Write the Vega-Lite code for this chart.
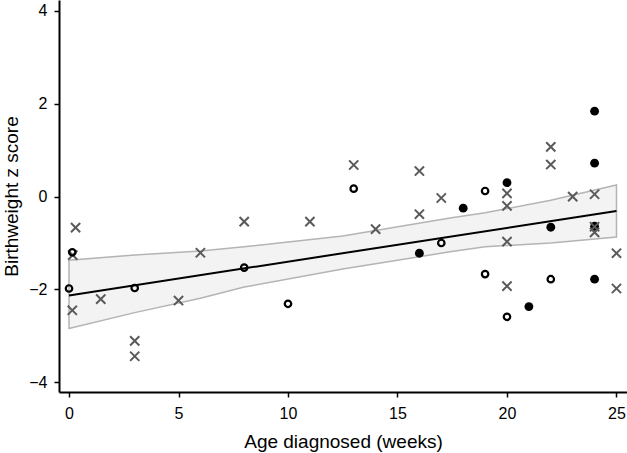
{
  "$schema": "https://vega.github.io/schema/vega-lite/v6.json",
  "width": 568,
  "height": 392,
  "autosize": {"type": "none"},
  "padding": {"left": 59, "top": 0, "right": 0, "bottom": 61},
  "background": "white",
  "config": {
    "view": {"stroke": null},
    "font": "Liberation Sans",
    "axis": {
      "grid": false,
      "domainColor": "black",
      "domainWidth": 2,
      "tickColor": "black",
      "tickWidth": 1.5,
      "tickSize": 5,
      "labelFont": "Liberation Sans",
      "labelFontSize": 16,
      "labelColor": "black",
      "titleFont": "Liberation Sans",
      "titleFontSize": 19,
      "titleFontWeight": "normal",
      "titleColor": "black"
    },
    "axisX": {"labelPadding": 8, "titlePadding": 11},
    "axisY": {"labelPadding": 7, "titlePadding": 7}
  },
  "datasets": {
    "points": [
      {"age": 0.3, "z": -0.67, "group": "cross"},
      {"age": 0.17, "z": -1.26, "group": "cross"},
      {"age": 0.15, "z": -2.45, "group": "cross"},
      {"age": 1.45, "z": -2.21, "group": "cross"},
      {"age": 3, "z": -3.11, "group": "cross"},
      {"age": 3, "z": -3.44, "group": "cross"},
      {"age": 5, "z": -2.24, "group": "cross"},
      {"age": 6, "z": -1.21, "group": "cross"},
      {"age": 8, "z": -0.54, "group": "cross"},
      {"age": 11, "z": -0.54, "group": "cross"},
      {"age": 13, "z": 0.68, "group": "cross"},
      {"age": 14, "z": -0.7, "group": "cross"},
      {"age": 16, "z": 0.55, "group": "cross"},
      {"age": 16, "z": -0.38, "group": "cross"},
      {"age": 17, "z": -0.03, "group": "cross"},
      {"age": 20, "z": 0.07, "group": "cross"},
      {"age": 20, "z": -0.2, "group": "cross"},
      {"age": 20, "z": -0.97, "group": "cross"},
      {"age": 20, "z": -1.93, "group": "cross"},
      {"age": 22, "z": 1.07, "group": "cross"},
      {"age": 22, "z": 0.69, "group": "cross"},
      {"age": 23, "z": 0.0, "group": "cross"},
      {"age": 24, "z": 0.05, "group": "cross"},
      {"age": 24, "z": -0.65, "group": "cross"},
      {"age": 24, "z": -0.77, "group": "cross"},
      {"age": 25, "z": -1.22, "group": "cross"},
      {"age": 25, "z": -1.98, "group": "cross"},
      {"age": 0.15, "z": -1.2, "group": "open"},
      {"age": 0, "z": -1.98, "group": "open"},
      {"age": 3, "z": -1.97, "group": "open"},
      {"age": 8, "z": -1.53, "group": "open"},
      {"age": 10, "z": -2.31, "group": "open"},
      {"age": 13, "z": 0.17, "group": "open"},
      {"age": 17, "z": -1.0, "group": "open"},
      {"age": 19, "z": 0.12, "group": "open"},
      {"age": 19, "z": -1.67, "group": "open"},
      {"age": 20, "z": -2.59, "group": "open"},
      {"age": 22, "z": -1.78, "group": "open"},
      {"age": 16, "z": -1.22, "group": "filled"},
      {"age": 18, "z": -0.25, "group": "filled"},
      {"age": 20, "z": 0.3, "group": "filled"},
      {"age": 21, "z": -2.37, "group": "filled"},
      {"age": 22, "z": -0.66, "group": "filled"},
      {"age": 24, "z": 1.84, "group": "filled"},
      {"age": 24, "z": 0.72, "group": "filled"},
      {"age": 24, "z": -0.64, "group": "filled"},
      {"age": 24, "z": -1.78, "group": "filled"}
    ],
    "band": [
      {"age": 0, "lo": -2.84, "hi": -1.37},
      {"age": 3, "lo": -2.5, "hi": -1.26},
      {"age": 6, "lo": -2.19, "hi": -1.17},
      {"age": 8, "lo": -1.95, "hi": -1.08},
      {"age": 12.5, "lo": -1.56, "hi": -0.85},
      {"age": 17.4, "lo": -1.19, "hi": -0.46},
      {"age": 19, "lo": -1.08, "hi": -0.35},
      {"age": 22, "lo": -1.0, "hi": -0.08},
      {"age": 25, "lo": -0.87, "hi": 0.25}
    ],
    "fit": [
      {"age": 0, "z": -2.13},
      {"age": 25, "z": -0.31}
    ]
  },
  "layer": [
    {
      "mark": {"type": "rule", "color": "black", "strokeWidth": 2},
      "encoding": {"y": {"datum": 0, "type": "quantitative", "scale": {"domain": [-4.21, 4.235], "nice": false, "zero": false}, "title": "Birthweight z score", "axis": {"values": [-4, -2, 0, 2, 4]}}}
    },
    {
      "data": {"name": "band"},
      "mark": {"type": "area", "fill": "#f3f3f3", "stroke": "#b4b4b4", "strokeWidth": 1.5, "opacity": 1},
      "encoding": {
        "x": {"field": "age", "type": "quantitative", "scale": {"domain": [-0.457, 25.48], "nice": false, "zero": false}, "title": "Age diagnosed (weeks)", "axis": {"values": [0, 5, 10, 15, 20, 25]}},
        "y": {"field": "lo", "type": "quantitative", "title": "Birthweight z score"},
        "y2": {"field": "hi"}
      }
    },
    {
      "data": {"name": "fit"},
      "mark": {"type": "line", "color": "black", "strokeWidth": 2},
      "encoding": {
        "x": {"field": "age", "type": "quantitative", "title": "Age diagnosed (weeks)"},
        "y": {"field": "z", "type": "quantitative", "title": "Birthweight z score"}
      }
    },
    {
      "data": {"name": "points"},
      "transform": [{"filter": "datum.group === 'filled'"}],
      "mark": {"type": "point", "shape": "circle", "filled": true, "color": "black", "size": 78, "opacity": 1},
      "encoding": {
        "x": {"field": "age", "type": "quantitative", "title": "Age diagnosed (weeks)"},
        "y": {"field": "z", "type": "quantitative", "title": "Birthweight z score"}
      }
    },
    {
      "data": {"name": "points"},
      "transform": [{"filter": "datum.group === 'cross'"}],
      "mark": {"type": "point", "shape": "M-1,-1L1,1M-1,1L1,-1", "filled": false, "stroke": "#5a5a5a", "strokeWidth": 2, "size": 85, "opacity": 1},
      "encoding": {
        "x": {"field": "age", "type": "quantitative", "title": "Age diagnosed (weeks)"},
        "y": {"field": "z", "type": "quantitative", "title": "Birthweight z score"}
      }
    },
    {
      "data": {"name": "points"},
      "transform": [{"filter": "datum.group === 'open'"}],
      "mark": {"type": "point", "shape": "circle", "filled": false, "stroke": "black", "strokeWidth": 2.2, "size": 42, "opacity": 1},
      "encoding": {
        "x": {"field": "age", "type": "quantitative", "title": "Age diagnosed (weeks)"},
        "y": {"field": "z", "type": "quantitative", "title": "Birthweight z score"}
      }
    }
  ]
}
